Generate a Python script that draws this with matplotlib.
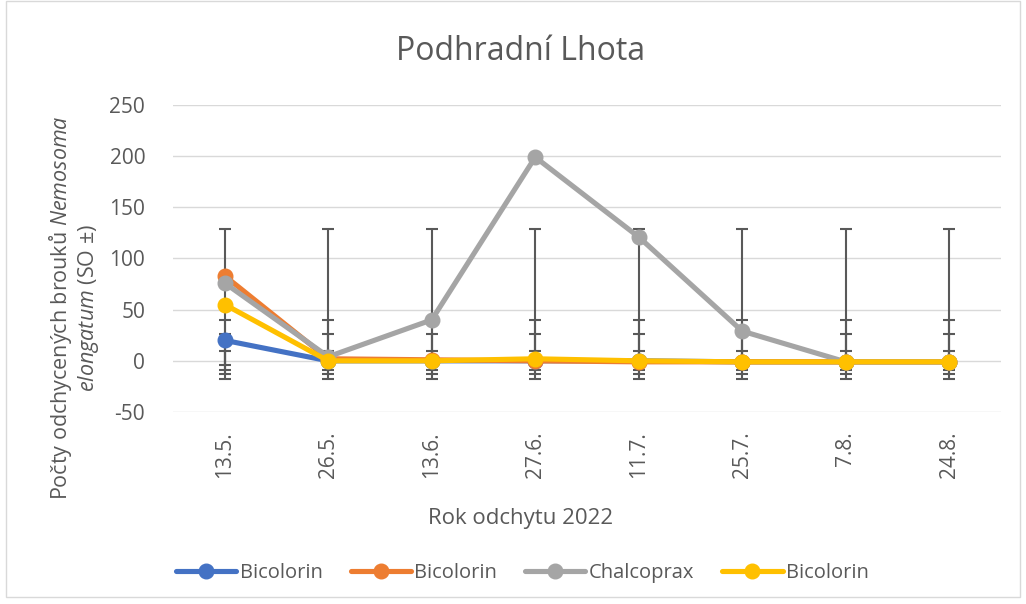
import numpy as np
import matplotlib.pyplot as plt
from matplotlib.patches import Rectangle

plt.rcParams['font.family'] = ['Open Sans', 'DejaVu Sans']
plt.rcParams['mathtext.fontset'] = 'custom'
plt.rcParams['mathtext.rm'] = 'Open Sans'
plt.rcParams['mathtext.it'] = 'Open Sans:italic'
plt.rcParams['axes.unicode_minus'] = False

dates = ['13.5.', '26.5.', '13.6.', '27.6.', '11.7.', '25.7.', '7.8.', '24.8.']
names = ['Bicolorin', 'Bicolorin', 'Chalcoprax', 'Bicolorin']
blue = [20, 0, 0, 0, 0, -1, -1, -1]
orange = [83, 2, 1, 0, -1, -1, -1, -1]
gray = [76, 4, 40, 199, 121, 29, -1, -1]
yellow = [55, 0, 0, 2, 0, -1, -1, -1]
# error bar ends (Excel SD bars, same for every point in a series)
err_low = [-4, -18, -9, -13]
err_high = [10, 40, 129, 26]

colors = ['#4472C4', '#ED7D31', '#A5A5A5', '#FFC000']
series = [blue, orange, gray, yellow]

fig = plt.figure(figsize=(10.26, 6.04), dpi=100)
ax = fig.add_axes([0.1686, 0.3179, 0.807, 0.5083])
x = np.arange(len(dates))

for i, vals in enumerate(series):
    lo = np.full(len(x), err_low[i])
    hi = np.full(len(x), err_high[i])
    ax.errorbar(x, (lo + hi) / 2, yerr=(hi - lo) / 2, fmt='none', ecolor='#595959',
                elinewidth=1.5, capsize=4.5, capthick=1.5, zorder=2)

for i, vals in enumerate(series):
    ax.plot(x, vals, color=colors[i], lw=3.7, marker='o', markersize=10.5,
            label=names[i], zorder=3 + i, solid_capstyle='round')

ax.set_xlim(-0.5, len(dates) - 0.5)
ax.set_ylim(-50, 250)
ax.set_yticks(np.arange(-50, 251, 50))
ax.set_xticks(x)
ax.set_xticklabels(dates, rotation=90)
ax.tick_params(axis='both', length=0, labelsize=15, labelcolor='#595959')
ax.tick_params(axis='x', pad=14)
ax.tick_params(axis='y', pad=20)
ax.grid(axis='y', color='#D9D9D9', lw=1)
ax.set_axisbelow(True)
for s in ax.spines.values():
    s.set_visible(False)

fig.text(0.507, 0.915, 'Podhradní Lhota', ha='center', va='center', fontsize=23, color='#595959')
fig.text(0.507, 0.142, 'Rok odchytu 2022', ha='center', va='center', fontsize=16, color='#595959')
fig.text(0.072, 0.49, 'Počty odchycených brouků $\\mathit{Nemosoma}$\n$\\mathit{elongatum}$ (SO ±)',
         rotation=90, ha='center', va='center', multialignment='center', fontsize=15.5,
         color='#595959', linespacing=1.1)

leg = fig.legend(loc='center', bbox_to_anchor=(0.509, 0.051), ncol=4, frameon=False,
                 fontsize=14.5, handlelength=3.0, columnspacing=1.4, handletextpad=0.15)
for t in leg.get_texts():
    t.set_color('#595959')

fig.patches.append(Rectangle((0.006, 0.012), 0.988, 0.986, transform=fig.transFigure,
                             fill=False, edgecolor='#D9D9D9', lw=1))

fig.savefig('out.png', dpi=100)
